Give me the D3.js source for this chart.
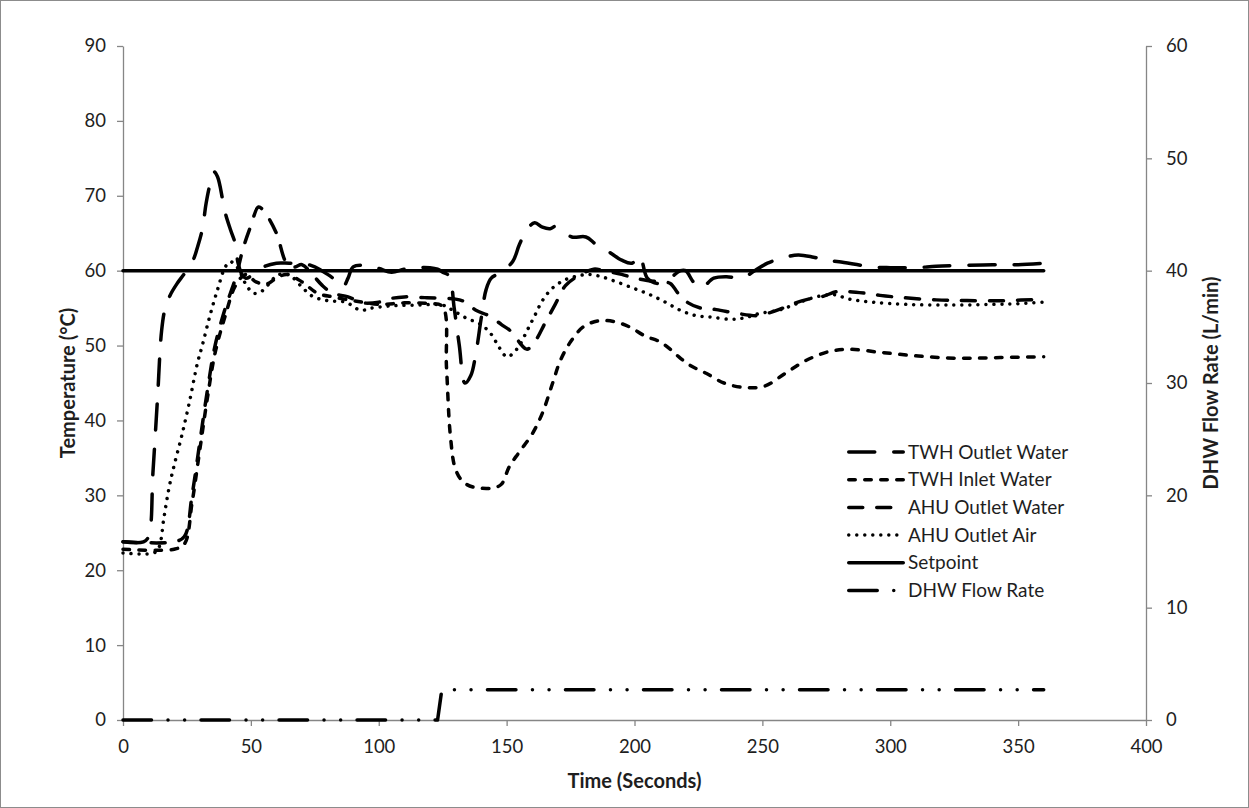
<!DOCTYPE html>
<html>
<head>
<meta charset="utf-8">
<script src="https://cdn.jsdelivr.net/npm/d3@7/dist/d3.min.js"></script>
<style>
  html, body { margin: 0; padding: 0; background: #fff; }
  svg { display: block; font-family: Lato, "Open Sans", sans-serif; }
</style>
</head>
<body>
<svg id="chart" width="1249" height="808"></svg>
<script>
// ---- data -------------------------------------------------------------
const xTicks = [0, 50, 100, 150, 200, 250, 300, 350, 400];
const yLeftTicks = [0, 10, 20, 30, 40, 50, 60, 70, 80, 90];
const yRightTicks = [0, 10, 20, 30, 40, 50, 60];

const seriesNames = ["TWH Outlet Water", "TWH Inlet Water", "AHU Outlet Water",
                     "AHU Outlet Air", "Setpoint", "DHW Flow Rate"];

// TWH outlet water temperature (°C)
const twhOutletTime = [0, 8, 10, 11.7, 13.5, 15.1, 16.5, 18.4, 21, 24.2, 27.4, 29, 31, 32.5, 34, 35.6, 37, 39, 40, 42, 43.8, 45, 46.5, 48, 51, 55, 60, 65, 70, 75, 80, 84, 86, 88, 90, 95, 100, 105, 110, 115, 120, 123, 125, 127.5, 129.5, 131.5, 133.7, 136, 138, 140, 142, 144, 148, 152.5, 155, 158, 161, 164, 167, 169, 172, 175.5, 181, 185, 190, 195, 199, 202, 205, 209, 213, 218, 220, 223, 226, 231, 236, 242, 247, 252, 258, 264, 270, 275, 280, 293, 300, 310, 318, 328, 340, 350, 360];
const twhOutletTemp = [23.8, 23.8, 24.5, 33, 43, 52, 55, 56.7, 58.2, 59.7, 61.4, 63, 65.5, 69, 71.5, 73.2, 72.5, 69.4, 67.7, 65.5, 63.7, 61, 59.5, 59, 59.5, 60.5, 61, 61, 61, 60.5, 59.5, 58.5, 57.8, 59, 60.5, 60.7, 60.3, 59.8, 60.2, 60.4, 60.4, 60.2, 59.8, 59.3, 55, 50, 45, 46, 49, 53.5, 57.5, 59, 59.8, 61.3, 63.5, 65.5, 66.4, 65.8, 65.6, 65.9, 65.3, 64.5, 64.5, 63.5, 62.5, 61.4, 61, 62, 59, 58.3, 58.8, 60, 60, 58.5, 57.7, 59, 59.2, 59, 60, 61, 61.7, 62.1, 61.8, 61.4, 61.2, 60.5, 60.4, 60.4, 60.6, 60.7, 60.8, 60.8, 61];

// TWH inlet water temperature (°C)
const twhInletTime = [0, 20, 24, 27, 30, 33, 36, 40, 44, 48, 52, 56, 60, 64, 70, 76, 82, 90, 100, 110, 120, 125, 126.5, 128, 130, 133, 137, 145, 148, 151, 155, 160, 164, 168, 171, 175, 180, 186, 192, 198, 204, 210, 214, 218, 222, 228, 235, 243, 251, 259, 267, 276, 284, 296, 311, 327, 343, 360];
const twhInletTemp = [22.8, 22.8, 23.5, 29, 36, 43, 49, 54, 58, 59.5, 58.5, 58.2, 59, 59.5, 58.5, 57, 56.5, 56, 55.5, 55.7, 55.6, 55.2, 47, 38, 33.5, 31.8, 31.1, 31, 31.5, 33.8, 35.8, 38.2, 41, 45, 48, 50.5, 52.5, 53.3, 53.2, 52.5, 51.3, 50.5, 49.5, 48.3, 47.3, 46.3, 45, 44.4, 44.6, 46.3, 48, 49.2, 49.5, 49.1, 48.6, 48.3, 48.4, 48.5];

// AHU outlet water temperature (°C)
const ahuWaterTime = [0, 20, 24, 27, 30, 33, 36, 40, 44, 47, 50, 53, 56, 60, 64, 67, 70, 74, 78, 82, 88, 94, 100, 105, 110, 118, 125, 130, 134, 138, 143, 148, 152, 156, 158, 161, 165, 169, 173, 178, 184, 188, 195, 200, 205, 210, 214, 217, 221, 226, 232, 240, 248, 253, 258, 263, 268, 274, 279, 284, 290, 296, 305, 318, 330, 345, 360];
const ahuWaterTemp = [23.8, 23.8, 24.5, 30, 37, 44, 50, 55, 59, 63, 66, 68.5, 67.5, 65, 61, 60.5, 60.8, 59.5, 58, 57, 56.5, 55.7, 55.8, 56.3, 56.5, 56.4, 56.3, 56.2, 55.8, 54.7, 54, 52.8, 51.8, 50, 49.5, 50.5, 53, 55.5, 58, 59.3, 60.2, 60, 59.5, 59, 58.7, 58.5, 58.3, 57, 55.7, 55, 54.8, 54.3, 54, 54.4, 55, 55.7, 56.2, 56.6, 57.2, 57.2, 57, 56.7, 56.4, 56.1, 56, 56, 56.2];

// AHU outlet air temperature (°C)
const ahuAirTime = [0, 12, 14, 16, 18, 20, 23, 26, 29, 31, 34, 37, 40, 42, 45, 48, 51, 54, 57, 60, 63, 66, 70, 74, 80, 87, 93, 97, 105, 115, 125, 129, 134, 140, 144, 147, 150, 152, 155, 158, 161, 164, 168, 173, 178, 182, 187, 193, 200, 206, 212, 218, 224, 230, 238, 243, 249, 256, 262, 268, 274, 278, 284, 293, 306, 324, 340, 350, 360];
const ahuAirTemp = [22.3, 22.3, 23, 27, 31, 34, 38, 42.5, 47.5, 50, 54, 57.5, 60.5, 61.2, 60.3, 58.2, 57, 57.2, 58.2, 59.3, 59.6, 59.2, 57.8, 56.6, 56, 55.8, 54.7, 55, 55.3, 55.4, 55.4, 54.7, 53.7, 52.8, 51.5, 49.8, 48.5, 48.8, 50, 52, 54, 56, 57.7, 58.8, 59.3, 59.5, 59.2, 58.5, 57.6, 56.8, 55.8, 54.7, 54, 53.8, 53.5, 53.7, 54.3, 54.7, 55.4, 56.2, 56.7, 56.8, 56.2, 55.8, 55.5, 55.4, 55.5, 55.6, 55.8];

// Setpoint (°C)
const setpointTime = [0, 360];
const setpointTemp = [60, 60];

// DHW flow rate (L/min), secondary axis
const flowTime = [0, 123, 124.6, 125.5, 360];
const flowRate = [0, 0, 2.6, 2.7, 2.7];

// ---- layout -----------------------------------------------------------
const svg = d3.select("#chart");
const W = 1249, H = 808;
const plot = { left: 123, right: 1146, top: 46, bottom: 720 };

const x = d3.scaleLinear().domain([0, 400]).range([plot.left, plot.right]);
const yL = d3.scaleLinear().domain([0, 90]).range([plot.bottom, plot.top]);
const yR = d3.scaleLinear().domain([0, 60]).range([plot.bottom, plot.top]);

const axisColor = "#868686";
const textColor = "#1e1e1e";
const lineW = 3.5;

// chart area border
svg.append("rect")
  .attr("x", 0.5).attr("y", 0.5).attr("width", W - 1).attr("height", H - 1)
  .attr("fill", "#fff").attr("stroke", "#8c8c8c").attr("stroke-width", 1);

function styleAxis(g) {
  g.select(".domain").attr("stroke", axisColor).attr("stroke-width", 1.3);
  g.selectAll(".tick line").attr("stroke", axisColor).attr("stroke-width", 1.3);
  g.selectAll(".tick text").attr("fill", textColor)
    .style("font-family", "Lato, sans-serif").style("font-size", "18.5px");
}

// axes
svg.append("g")
  .attr("transform", `translate(0,${plot.bottom})`)
  .call(d3.axisBottom(x).tickValues(xTicks).tickSize(6).tickPadding(14).tickSizeOuter(0))
  .call(styleAxis);

svg.append("g")
  .attr("transform", `translate(${plot.left},0)`)
  .call(d3.axisLeft(yL).tickValues(yLeftTicks).tickSize(6).tickPadding(11).tickSizeOuter(0))
  .call(styleAxis);

svg.append("g")
  .attr("transform", `translate(${plot.right},0)`)
  .call(d3.axisRight(yR).tickValues(yRightTicks).tickSize(6).tickPadding(14).tickSizeOuter(0))
  .call(styleAxis);

// axis titles
const titleSize = "20px";
svg.append("text")
  .attr("x", (plot.left + plot.right) / 2).attr("y", 788)
  .attr("text-anchor", "middle").attr("fill", textColor)
  .style("font-size", titleSize).style("font-weight", "bold")
  .text("Time (Seconds)");

svg.append("text")
  .attr("transform", `translate(75,${(plot.top + plot.bottom) / 2}) rotate(-90)`)
  .attr("text-anchor", "middle").attr("fill", textColor)
  .style("font-size", titleSize).style("font-weight", "bold")
  .text("Temperature (°C)");

svg.append("text")
  .attr("transform", `translate(1218,${(plot.top + plot.bottom) / 2}) rotate(-90)`)
  .attr("text-anchor", "middle").attr("fill", textColor)
  .style("font-size", titleSize).style("font-weight", "bold")
  .text("DHW Flow Rate (L/min)");

// ---- series -----------------------------------------------------------
const dashes = {
  "TWH Outlet Water": "26,19",
  "TWH Inlet Water": "6.5,9.5",
  "AHU Outlet Water": "14,14",
  "AHU Outlet Air": "0.01,8",
  "Setpoint": null,
  "DHW Flow Rate": "28.5,16.5,0.01,16.6,0.01,16.4"
};

const series = [
  { name: "TWH Outlet Water", t: twhOutletTime, v: twhOutletTemp, y: yL, smooth: true },
  { name: "TWH Inlet Water", t: twhInletTime, v: twhInletTemp, y: yL, smooth: true },
  { name: "AHU Outlet Water", t: ahuWaterTime, v: ahuWaterTemp, y: yL, smooth: true },
  { name: "AHU Outlet Air", t: ahuAirTime, v: ahuAirTemp, y: yL, smooth: true },
  { name: "Setpoint", t: setpointTime, v: setpointTemp, y: yL, smooth: false },
  { name: "DHW Flow Rate", t: flowTime, v: flowRate, y: yR, smooth: false }
];

const gLines = svg.append("g");
series.forEach(s => {
  const pts = s.t.map((t, i) => [t, s.v[i]]);
  const line = d3.line()
    .x(d => x(d[0])).y(d => s.y(d[1]))
    .curve(s.smooth ? d3.curveCatmullRom.alpha(0.5) : d3.curveLinear);
  gLines.append("path")
    .datum(pts)
    .attr("d", line)
    .attr("fill", "none")
    .attr("stroke", "#000")
    .attr("stroke-width", lineW)
    .attr("stroke-linecap", "round")
    .attr("stroke-linejoin", "round")
    .attr("stroke-dasharray", dashes[s.name]);
});

// ---- legend -----------------------------------------------------------
const legend = svg.append("g").attr("transform", "translate(847,452)");
seriesNames.forEach((name, i) => {
  const row = legend.append("g").attr("transform", `translate(0,${i * 27.7})`);
  row.append("line")
    .attr("x1", 1.75).attr("x2", 56.25).attr("y1", 0).attr("y2", 0)
    .attr("stroke", "#000").attr("stroke-width", lineW)
    .attr("stroke-linecap", "round")
    .attr("stroke-dasharray", dashes[name]);
  row.append("text")
    .attr("x", 61).attr("y", 0).attr("dy", "0.35em")
    .attr("fill", textColor)
    .style("font-size", "19px")
    .text(name);
});
</script>
</body>
</html>
